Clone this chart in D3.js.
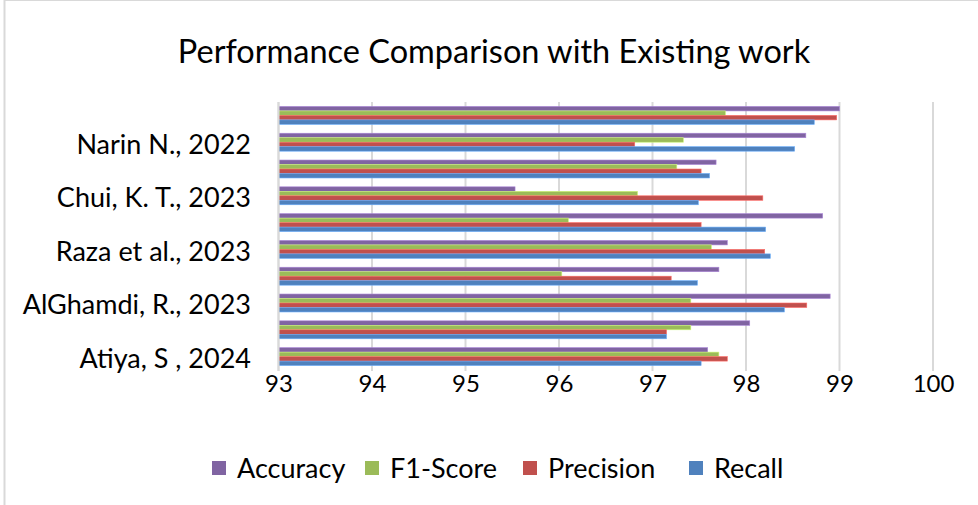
<!DOCTYPE html>
<html>
<head>
<meta charset="utf-8">
<script src="https://cdn.jsdelivr.net/npm/d3@7"></script>
<style>
	body { margin: 0; background: #fff; }
	text { font-family: Lato, "Open Sans", sans-serif; fill: #000; }
</style>
</head>
<body>
<div id="chart"></div>
<script>
// categories from bottom to top (only every other one is labelled in the picture)
const categories = ["Atiya, S , 2024", "", "AlGhamdi, R., 2023", "", "Raza et al., 2023", "",
	"Chui, K. T., 2023", "", "Narin N., 2022", ""];
const series_names = ["Accuracy", "F1-Score", "Precision", "Recall"];
const accuracy = [97.59, 98.04, 98.90, 97.71, 97.80, 98.82, 95.53, 97.68, 98.64, 99.00];
const f1_score = [97.71, 97.41, 97.41, 96.03, 97.63, 96.10, 96.84, 97.26, 97.33, 97.78];
const precision = [97.80, 97.15, 98.65, 97.20, 98.20, 97.52, 98.18, 97.52, 96.81, 98.97];
const recall = [97.52, 97.15, 98.41, 97.48, 98.26, 98.21, 97.49, 97.61, 98.52, 98.73];
const x_ticks = [93, 94, 95, 96, 97, 98, 99, 100];

const colors = ["#8064a2", "#9bbb59", "#c0504d", "#4f81bd"];
const width = 978;
const height = 505;

var series_values = [accuracy, f1_score, precision, recall];

var svg = d3.select("#chart")
	.append("svg")
	.attr("width", width)
	.attr("height", height);

// chart frame (only left and top edges are visible)
svg.append("line")
	.attr("x1", 4.5).attr("y1", 0).attr("x2", 4.5).attr("y2", height)
	.style("stroke", "#d9d9d9").style("stroke-width", 2);
svg.append("line")
	.attr("x1", 4).attr("y1", 0.5).attr("x2", width).attr("y2", 0.5)
	.style("stroke", "#d9d9d9").style("stroke-width", 1);

svg.append("text")
	.attr("x", 494)
	.attr("y", 63)
	.attr("text-anchor", "middle")
	.style("font-size", "32.5px")
	.text("Performance Comparison with Existing work");

var x = d3.scaleLinear()
	.domain([93, 100])
	.range([278.5, 933]);

var y0 = d3.scaleBand()
	.domain(d3.range(categories.length))
	.range([370, 102])
	.paddingInner(0.33)
	.paddingOuter(0.165);

var y1 = d3.scaleBand()
	.domain(d3.range(series_names.length))
	.range([0, y0.bandwidth()]);

// vertical gridlines
svg.append("g")
	.selectAll("line")
	.data(x_ticks)
	.enter()
	.append("line")
	.attr("x1", function (d) { return x(d); })
	.attr("x2", function (d) { return x(d); })
	.attr("y1", 102)
	.attr("y2", 371)
	.style("stroke", "#d9d9d9")
	.style("stroke-width", 2);

// x axis tick labels
var x_axis = svg.append("g")
	.attr("transform", "translate(0,371)")
	.call(d3.axisBottom(x).tickValues(x_ticks).tickFormat(d3.format("d")).tickSize(0).tickPadding(4));
x_axis.select(".domain").remove();
x_axis.selectAll("text")
	.style("font-size", "24px")
	.attr("font-family", null);

// category labels
var y_axis = svg.append("g")
	.attr("transform", "translate(251,0)")
	.call(d3.axisLeft(y0).tickFormat(function (i) { return categories[i]; }).tickSize(0).tickPadding(0));
y_axis.select(".domain").remove();
y_axis.selectAll("text")
	.style("font-size", "27px")
	.attr("font-family", null)
	.attr("dy", "0.42em");

// bars
var groups = svg.append("g")
	.selectAll("g")
	.data(categories)
	.enter()
	.append("g")
	.attr("transform", function (d, i) { return "translate(0," + y0(i) + ")"; });

groups.selectAll("rect")
	.data(function (d, i) {
		return series_values.map(function (v, s) { return { s: s, value: v[i] }; });
	})
	.enter()
	.append("rect")
	.attr("x", x(93))
	.attr("y", function (d) { return y1(d.s); })
	.attr("width", function (d) { return x(d.value) - x(93); })
	.attr("height", y1.bandwidth())
	.attr("fill", function (d) { return colors[d.s]; })
	.style("stroke", function (d) { return d3.color(colors[d.s]).brighter(0.8); })
	.style("stroke-width", 0.6);

// left axis line
svg.append("line")
	.attr("x1", x(93)).attr("x2", x(93))
	.attr("y1", 102).attr("y2", 371)
	.style("stroke", "#d9d9d9")
	.style("stroke-width", 2);

// legend
var legend_x = [212, 365, 523, 689];
var legend = svg.append("g")
	.selectAll("g")
	.data(series_names)
	.enter()
	.append("g")
	.attr("transform", function (d, i) { return "translate(" + legend_x[i] + ",468)"; });

legend.append("rect")
	.attr("x", 0)
	.attr("y", -7)
	.attr("width", 14)
	.attr("height", 14)
	.attr("fill", function (d, i) { return colors[i]; });

legend.append("text")
	.attr("x", 25)
	.attr("y", 0)
	.attr("dy", "0.36em")
	.style("font-size", "27px")
	.text(function (d) { return d; });
</script>
</body>
</html>
